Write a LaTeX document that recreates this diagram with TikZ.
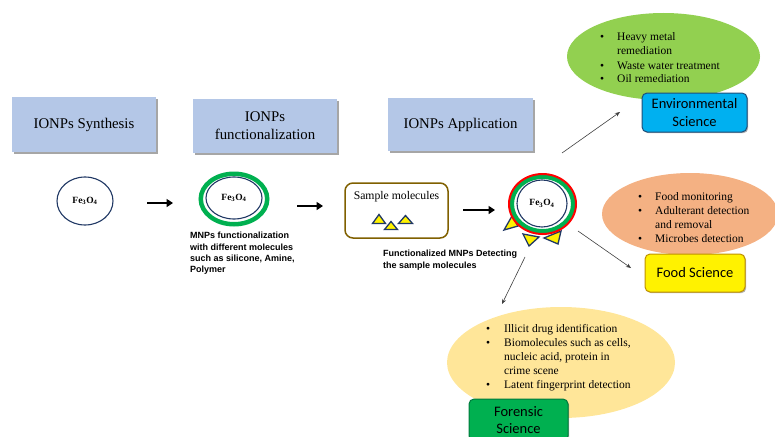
\documentclass[tikz,border=0pt]{standalone}
\usepackage{fontspec}
\setmainfont{Liberation Serif}
\newfontfamily\calib{Carlito}
\newfontfamily\lsans{Liberation Sans}
\usetikzlibrary{shapes.geometric,arrows.meta,shadows}
\definecolor{boxblue}{HTML}{B4C7E7}
\definecolor{navyline}{HTML}{203864}
\definecolor{ringgreen}{HTML}{00B050}
\definecolor{envgreen}{HTML}{92D050}
\definecolor{foodorange}{HTML}{F4B183}
\definecolor{forensicyellow}{HTML}{FFE699}
\definecolor{envcyan}{HTML}{00B0F0}
\definecolor{envborder}{HTML}{1F4E79}
\definecolor{foodborder}{HTML}{BF9000}
\definecolor{forborder}{HTML}{007A3D}
\definecolor{samplebrown}{HTML}{806000}
\definecolor{thinarrow}{HTML}{404040}
\newcommand{\feo}{\textbf{Fe\textsubscript{3}O\textsubscript{4}}}
\begin{document}
\begin{tikzpicture}[x=1pt,y=-1pt,
  titlebox/.style={fill=boxblue, inner sep=0, align=center,
    font=\fontsize{14.8}{18}\selectfont,
    drop shadow={shadow xshift=1.5pt,shadow yshift=-1.5pt,opacity=0.35,fill=black}},
  nano/.style={ellipse, draw=navyline, line width=1.1pt, inner sep=0,
    font=\fontsize{9.5}{11}\selectfont},
  ring/.style={ellipse, inner sep=0},
  bignote/.style={ellipse, inner sep=0},
  bullets/.style={anchor=north west, inner sep=0,
    font=\fontsize{11.5}{14}\selectfont},
  areabox/.style={rounded corners=5pt, line width=1pt, inner sep=0, align=center,
    font=\calib\fontsize{14.5}{18.5}\selectfont,
    drop shadow={shadow xshift=1.2pt,shadow yshift=-1.2pt,opacity=0.3,fill=black}},
  caption/.style={anchor=north west, inner sep=0, align=left,
    font=\lsans\bfseries\fontsize{9}{11.4}\selectfont},
  bigarrow/.style={line width=2.3pt, -{Triangle[length=6.5pt,width=8pt]}},
  thinarr/.style={draw=thinarrow, line width=0.6pt, -{Stealth[length=5pt,width=4pt]}},
  molecule/.style={fill=yellow, draw=navyline, line width=1.3pt, line join=miter}
]
\useasboundingbox (0,0) rectangle (775,436);

% title boxes
\node[titlebox, minimum width=144pt, minimum height=55pt] (syn) at (84,124.5) {IONPs Synthesis};
\node[titlebox, minimum width=144pt, minimum height=54pt] (fun) at (265,126) {IONPs\\functionalization};
\node[titlebox, minimum width=145pt, minimum height=53pt] (app) at (460.5,124.5) {IONPs Application};

% step 1
\node[nano, minimum width=56pt, minimum height=48pt] (np1) at (85,201) {\feo};

% step 2
\node[ring, draw=ringgreen, line width=4.5pt, minimum width=66.5pt, minimum height=50.5pt] (ring2) at (234,199) {};
\node[nano, minimum width=56pt, minimum height=42pt] (np2) at (234,198) {\feo};
\node[caption] (cap2) at (190,232) {MNPs functionalization\\with different molecules\\such as silicone, Amine,\\Polymer};

% sample molecules
\node[draw=samplebrown, line width=1.5pt, rounded corners=8pt, minimum width=103pt, minimum height=55pt, inner sep=0] (sample) at (396.5,210.5) {};
\node[inner sep=0, font=\fontsize{11.7}{14}\selectfont] (sampletxt) at (396.5,197) {Sample molecules};
\draw[molecule] (372.5,223.5) -- (379,214.5) -- (385.5,223.5) -- cycle;
\draw[molecule] (384.5,229.5) -- (391,221.5) -- (397.5,229.5) -- cycle;
\draw[molecule] (398.5,223.5) -- (405.5,215.5) -- (412.5,223.5) -- cycle;

% step 3: functionalized particle with bound molecules
\draw[molecule] (504,230) -- (512,216) -- (518,226) -- cycle;
\draw[molecule] (523,234) -- (539,237) -- (529,246) -- cycle;
\draw[molecule] (544,238) -- (561,231) -- (558,244) -- cycle;
\node[ring, draw=ringgreen, line width=4.5pt, minimum width=61.5pt, minimum height=54.5pt] (ring3g) at (542.5,204) {};
\node[ring, draw=red, line width=2pt, minimum width=67pt, minimum height=60pt] (ring3r) at (542.5,204) {};
\node[nano, minimum width=50pt, minimum height=47pt] (np3) at (542,203.5) {\feo};
\node[caption] (cap3) at (383,250) {Functionalized MNPs Detecting\\the sample molecules};

% thick arrows
\coordinate (a1s) at (147,203); \coordinate (a1e) at (173,203);
\coordinate (a2s) at (297,206); \coordinate (a2e) at (323,206);
\coordinate (a3s) at (463,210); \coordinate (a3e) at (495,210);
\draw[bigarrow] (a1s) -- (a1e);
\draw[bigarrow] (a2s) -- (a2e);
\draw[bigarrow] (a3s) -- (a3e);

% application ellipses
\node[bignote, fill=envgreen, minimum width=193pt, minimum height=87pt] (envell) at (663.5,56.5) {};
\node[bullets] (envtxt) at (600,31) {\begin{tabular}{@{}p{17pt}@{}l@{}}
\textbullet & Heavy metal\\
 & remediation\\
\textbullet & Waste water treatment\\
\textbullet & Oil remediation
\end{tabular}};
\node[areabox, fill=envcyan, draw=envborder, minimum width=105pt, minimum height=39pt] (envbox) at (694.5,112.5) {Environmental\\Science};

\node[bignote, fill=foodorange, minimum width=176pt, minimum height=82pt] (foodell) at (690,214) {};
\node[bullets] (foodtxt) at (638,190) {\begin{tabular}{@{}p{17pt}@{}l@{}}
\textbullet & Food monitoring\\
\textbullet & Adulterant detection\\
 & and removal\\
\textbullet & Microbes detection
\end{tabular}};
\node[areabox, fill=yellow, draw=foodborder, minimum width=100pt, minimum height=38pt] (foodbox) at (695,273) {Food Science};

\node[bignote, fill=forensicyellow, minimum width=228pt, minimum height=111pt] (forell) at (561,362.5) {};
\node[bullets] (fortxt) at (486,322) {\begin{tabular}{@{}p{18pt}@{}l@{}}
\textbullet & Illicit drug identification\\
\textbullet & Biomolecules such as cells,\\
 & nucleic acid, protein in\\
 & crime scene\\
\textbullet & Latent fingerprint detection
\end{tabular}};
\node[areabox, fill=ringgreen, draw=forborder, minimum width=99pt, minimum height=42pt,
  font=\calib\fontsize{14.5}{17.5}\selectfont] (forbox) at (518.5,420) {Forensic\\Science};

% thin arrows
\coordinate (t1s) at (562,153); \coordinate (t1e) at (620,112);
\coordinate (t2s) at (578,231); \coordinate (t2e) at (631,268);
\coordinate (t3s) at (525,257); \coordinate (t3e) at (502,304);
\draw[thinarr] (t1s) -- (t1e);
\draw[thinarr] (t2s) -- (t2e);
\draw[thinarr] (t3s) -- (t3e);
\end{tikzpicture}
\end{document}
